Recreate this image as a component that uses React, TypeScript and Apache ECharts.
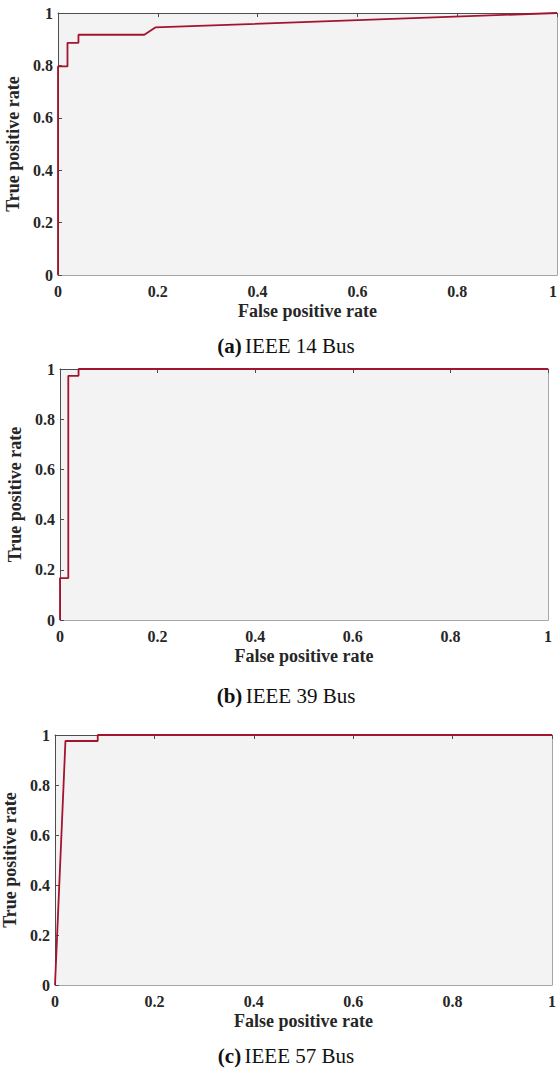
import React, { useEffect, useRef } from "react";
import * as echarts from "echarts";

// ROC curve data
const fprA = [0, 0, 0.019, 0.019, 0.041, 0.041, 0.173, 0.195, 1];
const tprA = [0, 0.796, 0.796, 0.886, 0.886, 0.917, 0.917, 0.945, 1];

const fprB = [0, 0, 0.017, 0.017, 0.038, 0.038, 1];
const tprB = [0, 0.167, 0.167, 0.973, 0.973, 1, 1];

const fprC = [0, 0.021, 0.086, 0.086, 1];
const tprC = [0, 0.976, 0.976, 1, 1];

const captions = [
  ["(a)", "IEEE 14 Bus"],
  ["(b)", "IEEE 39 Bus"],
  ["(c)", "IEEE 57 Bus"],
];
const xTitle = "False positive rate";
const yTitle = "True positive rate";

const FONT = "Liberation Serif";
const LINE_COLOR = "#a2142f";
const DARK = "#4d4d4d";
const LIGHT = "#a6a6a6";

const grids = [
  { left: 58, top: 13, width: 499, height: 262, yGap: 31, capY: 346, alignMax: "right" },
  { left: 60, top: 369, width: 488, height: 251, yGap: 33, capY: 696, alignMax: "center" },
  { left: 55, top: 735, width: 497, height: 250, yGap: 31, capY: 1056, alignMax: "center" },
];

const pairs = (xs: number[], ys: number[]) => xs.map((x, i) => [x, ys[i]]);

export default function App() {
  const ref = useRef<HTMLDivElement>(null);
  useEffect(() => {
    if (!ref.current) return;
    const chart = echarts.init(ref.current, undefined, { renderer: "svg" });
    const datasets = [pairs(fprA, tprA), pairs(fprB, tprB), pairs(fprC, tprC)];

    const gridOpts = grids.map((g) => ({
      left: g.left,
      top: g.top,
      width: g.width,
      height: g.height,
      show: true,
      backgroundColor: "#f3f3f3",
      borderWidth: 0,
      containLabel: false,
      outerBoundsMode: "none",
    }));

    const xAxes: any[] = [];
    const yAxes: any[] = [];
    grids.forEach((g, i) => {
      xAxes.push({
        type: "value",
        gridIndex: i,
        position: "bottom",
        min: 0,
        max: 1,
        interval: 0.2,
        name: xTitle,
        nameLocation: "middle",
        nameGap: 27,
        nameTextStyle: { fontFamily: FONT, fontWeight: "bold", fontSize: 18, color: "#262626" },
        axisLine: { show: true, onZero: false, lineStyle: { color: LIGHT, width: 1 } },
        axisTick: { show: false },
        splitLine: { show: false },
        axisLabel: {
          margin: 8,
          fontFamily: FONT,
          fontWeight: "bold",
          fontSize: 16,
          color: "#262626",
          alignMaxLabel: g.alignMax,
        },
      });
      xAxes.push({
        type: "value",
        gridIndex: i,
        position: "top",
        min: 0,
        max: 1,
        interval: 0.2,
        axisLine: { show: true, onZero: false, lineStyle: { color: DARK, width: 1 } },
        axisTick: { show: true, inside: true, length: 4, lineStyle: { color: DARK } },
        splitLine: { show: false },
        axisLabel: { show: false },
      });
      yAxes.push({
        type: "value",
        gridIndex: i,
        position: "left",
        min: 0,
        max: 1,
        interval: 0.2,
        name: yTitle,
        nameLocation: "middle",
        nameGap: g.yGap,
        nameRotate: 90,
        nameTextStyle: { fontFamily: FONT, fontWeight: "bold", fontSize: 18, color: "#262626" },
        axisLine: { show: true, onZero: false, lineStyle: { color: DARK, width: 1 } },
        axisTick: { show: true, inside: true, length: 4, lineStyle: { color: DARK } },
        splitLine: { show: false },
        axisLabel: { margin: 5, fontFamily: FONT, fontWeight: "bold", fontSize: 16, color: "#262626" },
      });
      yAxes.push({
        type: "value",
        gridIndex: i,
        position: "right",
        min: 0,
        max: 1,
        interval: 0.2,
        axisLine: { show: true, onZero: false, lineStyle: { color: LIGHT, width: 1 } },
        axisTick: { show: false },
        splitLine: { show: false },
        axisLabel: { show: false },
      });
    });

    const series = datasets.map((d, i) => ({
      type: "line",
      xAxisIndex: i * 2,
      yAxisIndex: i * 2,
      data: d,
      showSymbol: false,
      symbol: "none",
      clip: false,
      z: 10,
      lineStyle: { color: LINE_COLOR, width: 1.8 },
    }));

    const graphic = grids.map((g, i) => ({
      type: "text",
      x: 286,
      y: g.capY,
      style: {
        text: `{b|${captions[i][0]}} {r|${captions[i][1]}}`,
        align: "center",
        verticalAlign: "middle",
        rich: {
          b: { fontFamily: FONT, fontWeight: "bold", fontSize: 21, fill: "#111" },
          r: { fontFamily: FONT, fontWeight: "normal", fontSize: 21, fill: "#111" },
        },
      },
    }));

    chart.setOption({
      animation: false,
      backgroundColor: "#ffffff",
      grid: gridOpts,
      xAxis: xAxes,
      yAxis: yAxes,
      series,
      graphic,
    });
    return () => chart.dispose();
  }, []);

  return (
    <div
      ref={ref}
      style={{ position: "absolute", left: 0, top: 0, width: 558, height: 1068 }}
    />
  );
}
